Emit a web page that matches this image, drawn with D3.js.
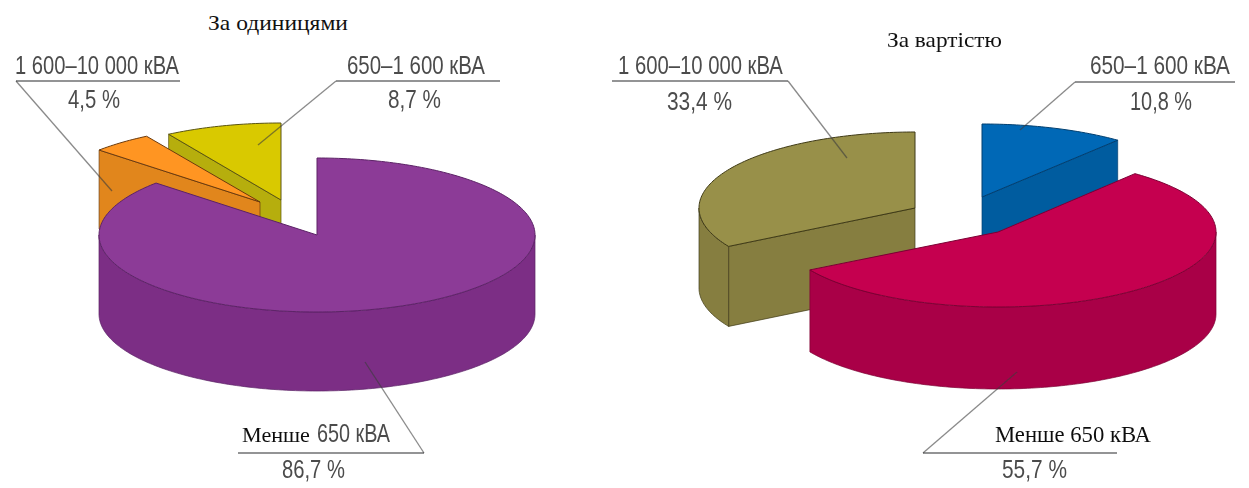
<!DOCTYPE html>
<html><head><meta charset="utf-8">
<script src="https://cdn.jsdelivr.net/npm/d3@7"></script>
<style>html,body{margin:0;background:#fff}svg{display:block}</style>
</head><body><svg id="c" width="1249" height="488"></svg>
<script>
// --- data ---
const unitsCategories = ["Менше 650 кВА", "1 600–10 000 кВА", "650–1 600 кВА"];
const unitsValues = [86.7, 4.5, 8.7];
const costCategories = ["650–1 600 кВА", "Менше 650 кВА", "1 600–10 000 кВА"];
const costValues = [10.8, 55.7, 33.4];
const unitsLabels = ["86,7 %", "4,5 %", "8,7 %"];
const costLabels = ["10,8 %", "55,7 %", "33,4 %"];
const titles = ["За одиницями", "За вартістю"];

// --- layout & style ---
const unitsStyle = [
  {cx:317,cy:235,rx:218,ry:77,depth:79,top:"#8c3a97",wall:"#7b2f85",line:"#5c2366",z:2},
  {cx:260,cy:202,rx:218,ry:77,depth:79,top:"#ff9522",wall:"#e1861c",line:"#6b3a10",z:1},
  {cx:281,cy:200,rx:216,ry:77,depth:79,top:"#d9c900",wall:"#b6ae10",line:"#5a5410",z:0}
];
const costStyle = [
  {cx:982,cy:197,rx:216,ry:73,depth:80,top:"#0068b6",wall:"#005b9f",line:"#003f70",z:1},
  {cx:998,cy:232,rx:218,ry:75,depth:82,top:"#c5004f",wall:"#a90047",line:"#7c0034",z:2},
  {cx:915,cy:208,rx:216,ry:76,depth:80,top:"#98904a",wall:"#867e41",line:"#3f3a16",z:0}
];
const unitsCallouts = [
  {ux0:238,ux1:424,uy:453,from:[424,453],to:[365,362],head:[317,442,73],pct:[282,478,63],serifWord:[242,442,68]},
  {ux0:16,ux1:180,uy:81,from:[16,81],to:[112,191],head:[15,74,164],pct:[68,108,52]},
  {ux0:336,ux1:500,uy:81,from:[336,81],to:[258,145],head:[347,74,138],pct:[388,108,53]}
];
const costCallouts = [
  {ux0:1075,ux1:1235,uy:82,from:[1075,82],to:[1020,130],head:[1090,74,140],pct:[1130,110,62]},
  {ux0:923,ux1:1117,uy:453,from:[923,453],to:[1017,372],serifFull:[995,442,156],pct:[1002,478,65]},
  {ux0:612,ux1:788,uy:81,from:[788,81],to:[847,158],head:[618,74,165],pct:[667,110,65]}
];

const svg = d3.select("#c");
const defs = svg.append("defs");
defs.append("filter").attr("id","soft").append("feGaussianBlur").attr("stdDeviation",0.45);
const pie = d3.pie().sort(null).value(d=>d);
const lineGen = d3.line();
const pt = (s,a,dz=0)=>[s.cx+s.rx*Math.sin(a), s.cy-s.ry*Math.cos(a)+dz];
const samples = (a0,a1)=>{const n=Math.max(2,Math.ceil((a1-a0)/0.02));return d3.range(n+1).map(i=>a0+(a1-a0)*i/n);};

function drawPie(root, values, styles){
  const arcs = pie(values).map((a,i)=>({a,s:styles[i]})).sort((p,q)=>p.s.z-q.s.z);
  arcs.forEach(({a,s})=>{
    const g = root.append("g");
    const wall = (pts)=>g.append("path").attr("d",lineGen(pts)+"Z").attr("fill",s.wall).attr("stroke",s.line).attr("stroke-width",0.7).attr("stroke-linejoin","round");
    if (a.startAngle>Math.PI)
      wall([pt(s,a.startAngle),[s.cx,s.cy],[s.cx,s.cy+s.depth],pt(s,a.startAngle,s.depth)]);
    if (a.endAngle<Math.PI)
      wall([pt(s,a.endAngle),[s.cx,s.cy],[s.cx,s.cy+s.depth],pt(s,a.endAngle,s.depth)]);
    const w0 = Math.max(a.startAngle, Math.PI/2), w1 = Math.min(a.endAngle, Math.PI*1.5);
    if (w1>w0){
      const ang = samples(w0,w1);
      wall(ang.map(t=>pt(s,t)).concat(ang.slice().reverse().map(t=>pt(s,t,s.depth))));
    }
    const rim = samples(a.startAngle,a.endAngle).map(t=>pt(s,t));
    g.append("path").attr("d",lineGen([[s.cx,s.cy],...rim])+"Z")
      .attr("fill",s.top).attr("stroke",s.line).attr("stroke-width",1).attr("stroke-linejoin","round");
  });
}

const SANS = "'Liberation Sans',sans-serif", SERIF = "'Liberation Serif',serif";
// Text squeezed horizontally to the measured width of the reference's lettering.
function fitted(root, [x,y,w], str, family, size, fill){
  const t = root.append("text").attr("font-family",family).attr("font-size",size).attr("fill",fill).text(str);
  const natural = t.node().getComputedTextLength();
  t.attr("transform",`translate(${x},${y}) scale(${w/natural},1)`);
}
function drawCallouts(root, callouts, names, labels){
  callouts.forEach((c,i)=>{
    root.append("path").attr("d",lineGen([[c.ux0,c.uy],[c.ux1,c.uy]])).attr("stroke","#6f7072").attr("stroke-width",1.5).attr("fill","none");
    root.append("path").attr("d",lineGen([c.from,c.to])).attr("stroke","#3c3c3c").attr("stroke-opacity",0.6).attr("stroke-width",1.3).attr("fill","none");
    if (c.serifFull) fitted(root,c.serifFull,names[i],SERIF,23,"#111");
    else if (c.serifWord){
      const parts = names[i].split(" ");
      fitted(root,c.serifWord,parts[0],SERIF,22,"#111");
      fitted(root,c.head,parts.slice(1).join(" "),SANS,26,"#4c4c4c");
    } else fitted(root,c.head,names[i],SANS,26,"#4c4c4c");
    fitted(root,c.pct,labels[i],SANS,26,"#4c4c4c");
  });
}

const chart = svg.append("g").attr("filter","url(#soft)");
drawPie(chart, unitsValues, unitsStyle);
drawPie(chart, costValues, costStyle);
drawCallouts(chart, unitsCallouts, unitsCategories, unitsLabels);
drawCallouts(chart, costCallouts, costCategories, costLabels);
fitted(svg,[208,30,140],titles[0],SERIF,22,"#111");
fitted(svg,[887,47,115],titles[1],SERIF,22,"#111");
</script></body></html>
